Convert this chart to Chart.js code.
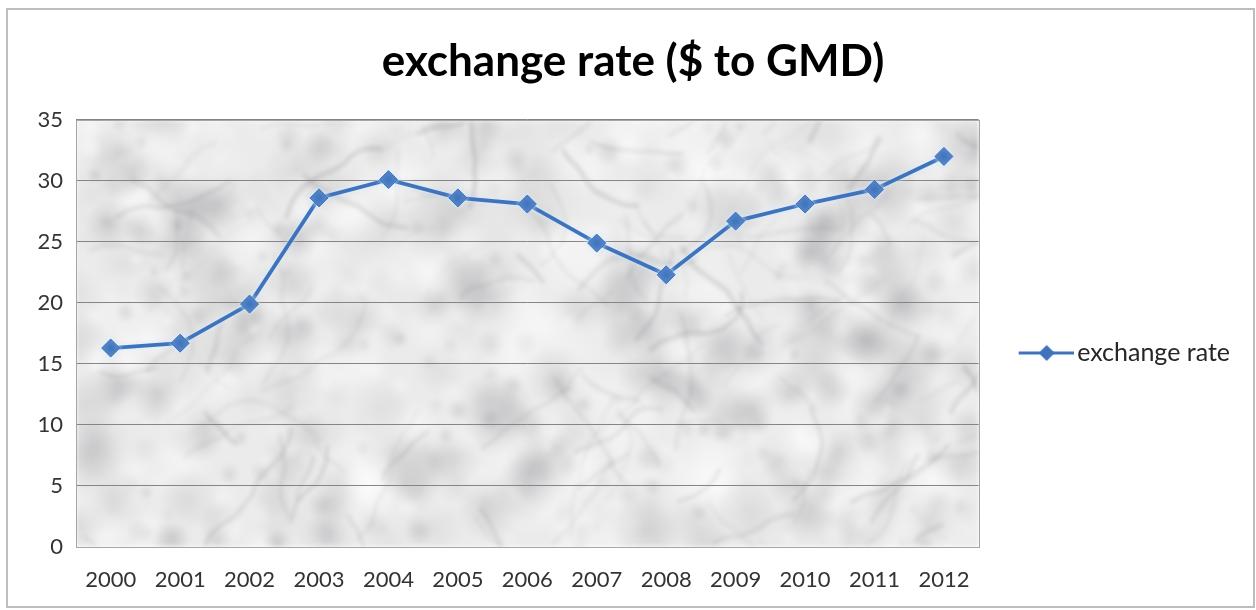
<!DOCTYPE html>
<html>
<head>
<meta charset="utf-8">
<script src="https://cdn.jsdelivr.net/npm/chart.js@4.4.1/dist/chart.umd.min.js"></script>
<style>
  html, body { margin: 0; padding: 0; background: #ffffff; }
  #wrap { position: relative; width: 1256px; height: 610px; }
  canvas { display: block; }
</style>
</head>
<body>
<div id="wrap"><canvas id="chart" width="1256" height="610"></canvas></div>
<script>
// Chart data
const years = ['2000', '2001', '2002', '2003', '2004', '2005', '2006', '2007', '2008', '2009', '2010', '2011', '2012'];
const exchangeRate = [16.3, 16.7, 19.9, 28.6, 30.1, 28.6, 28.1, 24.9, 22.3, 26.7, 28.1, 29.3, 32.0];
const yTicks = [0, 5, 10, 15, 20, 25, 30, 35];

const SERIES_COLOR = '#3f74bd';
const FONT = 'Lato, "Open Sans", "DejaVu Sans", sans-serif';

// Small deterministic generator for the stone texture
function makeRng(seed) {
  let s = seed >>> 0;
  return function () {
    s = (s * 1664525 + 1013904223) >>> 0;
    return s / 4294967296;
  };
}

// Builds a grey marble-like texture for the plot background
function buildMarble(w, h) {
  const c = document.createElement('canvas');
  c.width = w; c.height = h;
  const g = c.getContext('2d');
  const rnd = makeRng(20120);
  g.fillStyle = '#ebebeb';
  g.fillRect(0, 0, w, h);
  // cloudy mottling
  for (let i = 0; i < 900; i++) {
    const x = rnd() * w, y = rnd() * h, r = 6 + rnd() * 30;
    const dark = rnd() < 0.5;
    const grad = g.createRadialGradient(x, y, 0, x, y, r);
    const a = dark ? 0.05 + rnd() * 0.13 : 0.15 + rnd() * 0.3;
    grad.addColorStop(0, dark ? `rgba(100,100,108,${a})` : `rgba(255,255,255,${a})`);
    grad.addColorStop(1, dark ? 'rgba(100,100,108,0)' : 'rgba(255,255,255,0)');
    g.fillStyle = grad;
    g.beginPath(); g.arc(x, y, r, 0, Math.PI * 2); g.fill();
  }
  // diagonal veins
  for (let i = 0; i < 130; i++) {
    let x = rnd() * w, y = rnd() * h;
    let a = (rnd() < 0.7 ? -0.75 : 0.85) + (rnd() - 0.5) * 0.6;
    const steps = 3 + Math.floor(rnd() * 8);
    g.strokeStyle = `rgba(95,95,102,${0.06 + rnd() * 0.16})`;
    g.lineWidth = 1 + rnd() * 3;
    g.lineCap = 'round';
    g.lineJoin = 'round';
    g.beginPath(); g.moveTo(x, y);
    for (let k = 0; k < steps; k++) {
      a += (rnd() - 0.5) * 0.8;
      const len = 6 + rnd() * 14;
      x += Math.cos(a) * len; y += Math.sin(a) * len;
      g.lineTo(x, y);
    }
    g.stroke();
  }
  const out = document.createElement('canvas');
  out.width = w; out.height = h;
  const o = out.getContext('2d');
  o.filter = 'blur(2px)';
  o.drawImage(c, 0, 0);
  o.filter = 'none';
  return out;
}

let marbleCache = null;
const plotBackground = {
  id: 'plotBackground',
  beforeDraw(chart) {
    const { ctx, chartArea: a, width, height } = chart;
    ctx.save();
    ctx.fillStyle = '#ffffff';
    ctx.fillRect(0, 0, width, height);
    const w = Math.round(a.right - a.left), h = Math.round(a.bottom - a.top);
    if (!marbleCache || marbleCache.width !== w || marbleCache.height !== h) {
      marbleCache = buildMarble(w, h);
    }
    ctx.drawImage(marbleCache, a.left, a.top);
    ctx.restore();
  },
  afterDraw(chart) {
    const { ctx, chartArea: a } = chart;
    ctx.save();
    // plot frame
    ctx.strokeStyle = '#a6a6a6';
    ctx.lineWidth = 1;
    ctx.strokeRect(Math.round(a.left) + 0.5, Math.round(a.top) + 0.5,
                   Math.round(a.right - a.left), Math.round(a.bottom - a.top));
    // outer chart border
    ctx.strokeStyle = '#bdbdbd';
    ctx.lineWidth = 2;
    ctx.strokeRect(7, 9, 1247, 598);
    ctx.restore();
  }
};

// Soft light halo under the series line
const lineHalo = {
  id: 'lineHalo',
  beforeDatasetsDraw(chart) {
    const ctx = chart.ctx;
    ctx.save();
    ctx.shadowColor = 'rgba(215,235,255,0.95)';
    ctx.shadowBlur = 5;
  },
  afterDatasetsDraw(chart) {
    chart.ctx.restore();
  }
};

// Legend symbol: short line with a diamond marker.
// The image is wider than the legend box so the line runs close to the text.
const LEGEND_BOX = 82;
function legendSymbol() {
  const c = document.createElement('canvas');
  c.width = 100; c.height = 20;
  const g = c.getContext('2d');
  g.strokeStyle = SERIES_COLOR;
  g.lineWidth = 3;
  g.beginPath(); g.moveTo(45, 10); g.lineTo(100, 10); g.stroke();
  g.fillStyle = SERIES_COLOR;
  g.beginPath(); g.moveTo(73, 2); g.lineTo(81, 10); g.lineTo(73, 18); g.lineTo(65, 10); g.closePath(); g.fill();
  return c;
}
const legendIcon = legendSymbol();

new Chart(document.getElementById('chart'), {
  type: 'line',
  data: {
    labels: years,
    datasets: [{
      label: 'exchange rate',
      data: exchangeRate,
      borderColor: SERIES_COLOR,
      backgroundColor: SERIES_COLOR,
      borderWidth: 3.8,
      pointStyle: 'rectRot',
      pointRadius: 9,
      pointHoverRadius: 9,
      pointBackgroundColor: SERIES_COLOR,
      pointBorderColor: SERIES_COLOR,
      pointBorderWidth: 1,
      tension: 0,
      fill: false
    }]
  },
  options: {
    responsive: false,
    animation: false,
    devicePixelRatio: 1,
    layout: { padding: { left: 26, right: 16, top: 22, bottom: 18 } },
    plugins: {
      title: {
        display: true,
        text: 'exchange rate ($ to GMD)',
        color: '#000000',
        font: { family: FONT, size: 44, weight: 'bold' },
        padding: { top: 13, bottom: 32 }
      },
      legend: {
        position: 'right',
        title: { display: true, text: ' ', font: { size: 10 }, padding: { top: 40, bottom: 40 } },
        labels: {
          usePointStyle: true,
          pointStyleWidth: LEGEND_BOX,
          color: '#262626',
          font: { family: FONT, size: 25 },
          padding: 4,
          generateLabels() {
            return [{
              text: 'exchange rate',
              pointStyle: legendIcon,
              fillStyle: SERIES_COLOR,
              strokeStyle: SERIES_COLOR,
              lineWidth: 0,
              datasetIndex: 0,
              fontColor: '#262626'
            }];
          }
        }
      },
      tooltip: { enabled: false }
    },
    scales: {
      x: {
        offset: true,
        afterFit(scale) { scale.height = 45; },
        grid: { display: false, drawTicks: false },
        border: { display: false },
        ticks: {
          color: '#333333',
          font: { family: FONT, size: 22 },
          padding: 20,
          maxRotation: 0
        }
      },
      y: {
        min: 0,
        max: 35,
        afterBuildTicks(scale) {
          scale.ticks = yTicks.map(v => ({ value: v }));
        },
        afterFit(scale) { scale.width = 50; },
        grid: { color: '#858585', lineWidth: 1, drawTicks: false },
        border: { display: false },
        ticks: {
          color: '#333333',
          font: { family: FONT, size: 22 },
          padding: 13
        }
      }
    }
  },
  plugins: [plotBackground, lineHalo]
});
</script>
</body>
</html>
